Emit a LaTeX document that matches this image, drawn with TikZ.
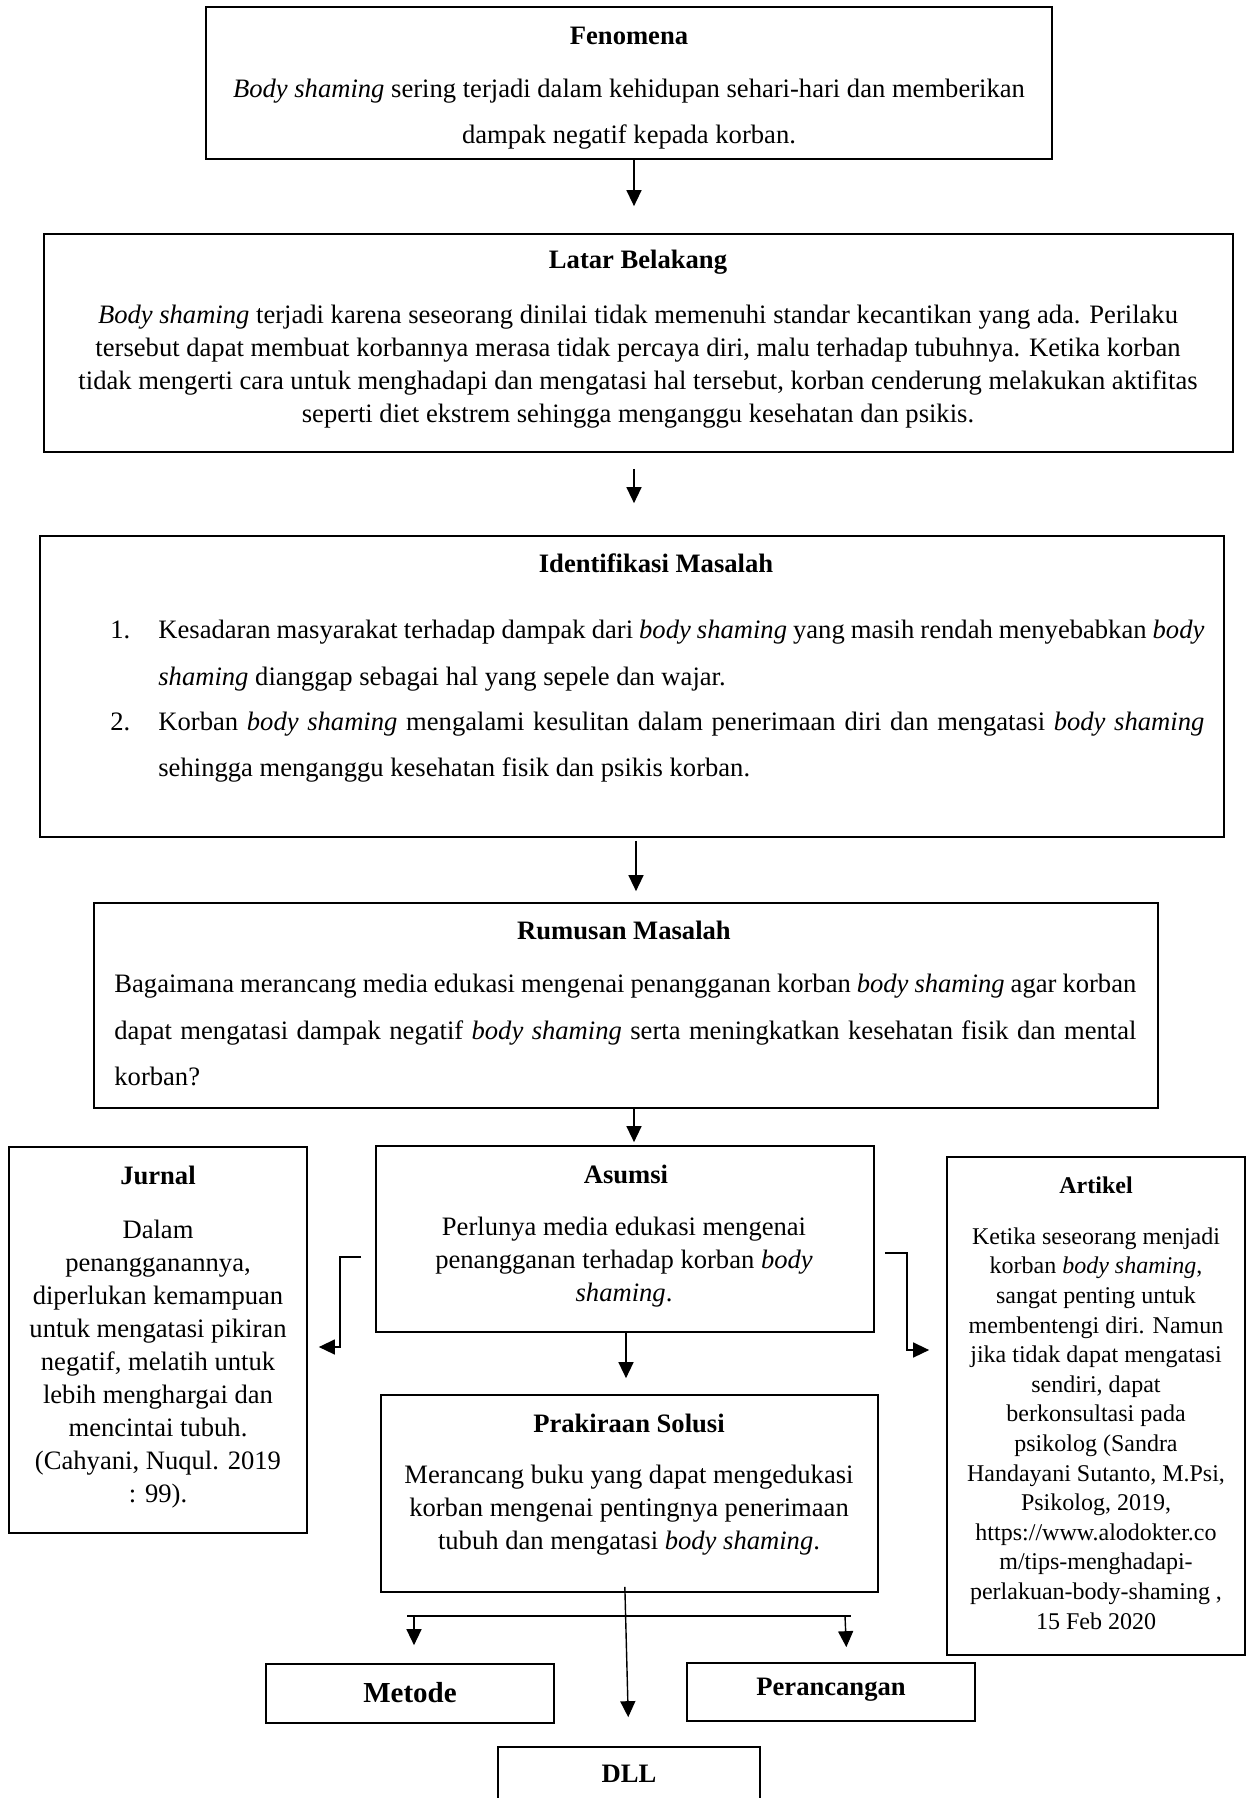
\documentclass[tikz,border=0pt]{standalone}
\usepackage{fontspec}
\setmainfont{Liberation Serif}
\usetikzlibrary{fit,arrows.meta,calc}
\begin{document}
\begin{tikzpicture}[x=0.5pt,y=-0.5pt,
  box/.style={draw, line width=0.85pt, inner sep=0pt},
  body/.style={font=\fontsize{13.3}{16.5}\selectfont, align=center, inner sep=0pt},
  bodyw/.style={font=\fontsize{13.3}{23.3}\selectfont, align=center, inner sep=0pt},
  ttl/.style={font=\bfseries\fontsize{13.3}{16}\selectfont, inner sep=0pt},
  small/.style={font=\fontsize{12}{14.8}\selectfont, align=center, inner sep=0pt},
  big/.style={font=\bfseries\fontsize{14.5}{17}\selectfont, inner sep=0pt},
  mid/.style={font=\bfseries\fontsize{13.3}{16}\selectfont, inner sep=0pt},
  conn/.style={line width=0.7pt},
  arr/.style={conn, -{Triangle[length=8pt,width=7.5pt]}},
]
\useasboundingbox (0,0) rectangle (1250,1798);

% boxes
\node[box, fit={(206,7) (1052,159)}] (fen) {};
\node[box, fit={(44,234) (1233,452)}] (lb) {};
\node[box, fit={(40,536) (1224,837)}] (idm) {};
\node[box, fit={(94,903) (1158,1108)}] (rm) {};
\node[box, fit={(9,1147) (307,1533)}] (jur) {};
\node[box, fit={(376,1146) (874,1332)}] (asm) {};
\node[box, fit={(947,1157) (1245,1655)}] (art) {};
\node[box, fit={(381,1395) (878,1592)}] (pra) {};
\node[box, fit={(266,1664) (554,1723)}] (met) {};
\node[box, fit={(687,1663) (975,1721)}] (per) {};
\node[box, fit={(498,1747) (760,1815)}] (dll) {};

% Fenomena
\node[ttl] (tfen) at (629,36) {Fenomena};
\node[bodyw] (bfen) at (629,114) {\emph{Body shaming} sering terjadi dalam kehidupan sehari-hari dan memberikan\\ dampak negatif kepada korban.};

% Latar Belakang
\node[ttl] (tlb) at (638,262) {Latar Belakang};
\node[body] (blb) at (638,366.5) {\emph{Body shaming} terjadi karena seseorang dinilai tidak memenuhi standar kecantikan yang ada. Perilaku\\ tersebut dapat membuat korbannya merasa tidak percaya diri, malu terhadap tubuhnya. Ketika korban\\ tidak mengerti cara untuk menghadapi dan mengatasi hal tersebut, korban cenderung melakukan aktifitas\\ seperti diet ekstrem sehingga menganggu kesehatan dan psikis.};

% Identifikasi Masalah
\node[ttl] (tidm) at (656,563) {Identifikasi Masalah};
\node[bodyw, align=left, anchor=west] (i1) at (158,655.5) {\llap{\makebox[24pt][l]{1.}}\hbox to 523pt{Kesadaran masyarakat terhadap dampak dari \emph{body shaming} yang masih rendah menyebabkan \emph{body}}\\ \emph{shaming} dianggap sebagai hal yang sepele dan wajar.};
\node[bodyw, align=left, anchor=west] (i2) at (158,747) {\llap{\makebox[24pt][l]{2.}}\hbox to 523pt{Korban \emph{body shaming} mengalami kesulitan dalam penerimaan diri dan mengatasi \emph{body shaming}}\\ sehingga menganggu kesehatan fisik dan psikis korban.};

% Rumusan Masalah
\node[ttl] (trm) at (624,930) {Rumusan Masalah};
\node[bodyw, align=left, anchor=west] (brm) at (114,1030) {\hbox to 511pt{Bagaimana merancang media edukasi mengenai penangganan korban \emph{body shaming} agar korban}\\ \hbox to 511pt{dapat mengatasi dampak negatif \emph{body shaming} serta meningkatkan kesehatan fisik dan mental}\\ korban?};

% Jurnal
\node[ttl] (tjur) at (158,1175) {Jurnal};
\node[body] (bjur) at (158,1364.5) {Dalam\\ penangganannya,\\ diperlukan kemampuan\\ untuk mengatasi pikiran\\ negatif, melatih untuk\\ lebih menghargai dan\\ mencintai tubuh.\\ (Cahyani, Nuqul. 2019\\ : 99).};

% Asumsi
\node[ttl] (tasm) at (626,1174) {Asumsi};
\node[body] (basm) at (624,1262) {Perlunya media edukasi mengenai\\ penangganan terhadap korban \emph{body}\\ \emph{shaming}.};

% Artikel
\node[font=\bfseries\fontsize{12}{14}\selectfont, inner sep=0pt] (tart) at (1096,1185) {Artikel};
\node[small] (bart) at (1096,1428.5) {Ketika seseorang menjadi\\ korban \emph{body shaming},\\ sangat penting untuk\\ membentengi diri. Namun\\ jika tidak dapat mengatasi\\ sendiri, dapat\\ berkonsultasi pada\\ psikolog (Sandra\\ Handayani Sutanto, M.Psi,\\ Psikolog, 2019,\\ https://www.alodokter.co\\ m/tips-menghadapi-\\ perlakuan-body-shaming ,\\ 15 Feb 2020};

% Prakiraan Solusi
\node[ttl] (tpra) at (629,1423) {Prakiraan Solusi};
\node[body] (bpra) at (629,1510) {Merancang buku yang dapat mengedukasi\\ korban mengenai pentingnya penerimaan\\ tubuh dan mengatasi \emph{body shaming}.};

% bottom boxes
\node[big] (tmet) at (410,1693) {Metode};
\node[mid] (tper) at (831,1690) {Perancangan};
\node[mid] (tdll) at (629,1774) {DLL};

% connector coordinates
\coordinate (xa) at (634,0);
\coordinate (xb) at (636,0);
\coordinate (xc) at (626,0);
\coordinate (ya) at (0,1257);
\coordinate (yb) at (0,1347);
\coordinate (yc) at (0,1253);
\coordinate (yd) at (0,1350);
\coordinate (xs1) at (625,0);
\coordinate (xs2) at (629,0);
\coordinate (barL) at (407,1616);
\coordinate (barR) at (851,1616);
\coordinate (mA) at (414,1616);
\coordinate (pA) at (845,1616);
\coordinate (pB) at (847,0);

% vertical flow
\draw[arr, shorten >=13.5pt] (xa |- fen.south) -- (xa |- lb.north);
\draw[arr, shorten <=8pt, shorten >=16pt] (xa |- lb.south) -- (xa |- idm.north);
\draw[arr, shorten <=1.5pt, shorten >=5.5pt] (xb |- idm.south) -- (xb |- rm.north);
\draw[arr, shorten >=1.5pt] (xa |- rm.south) -- (xa |- asm.north);
\draw[arr, shorten >=8pt] (xc |- asm.south) -- (xc |- pra.north);

% side elbows
\draw[arr, shorten <=7pt, shorten >=5.5pt] (asm.west |- ya) -- (340,1257) -- (340,1347) -- (jur.east |- yb);
\draw[arr, shorten <=5pt, shorten >=8.5pt] (asm.east |- yc) -- (907,1253) -- (907,1350) -- (art.west |- yd);

% bottom
\draw[arr, shorten <=-3pt, shorten >=14.5pt] (xs1 |- pra.south) -- (xs2 |- dll.north);
\draw[conn] (barL) -- (barR);
\draw[arr, shorten >=9pt] (mA) -- (mA |- met.north);
\draw[arr, shorten >=7.5pt] (pA) -- (pB |- per.north);
\end{tikzpicture}
\end{document}
